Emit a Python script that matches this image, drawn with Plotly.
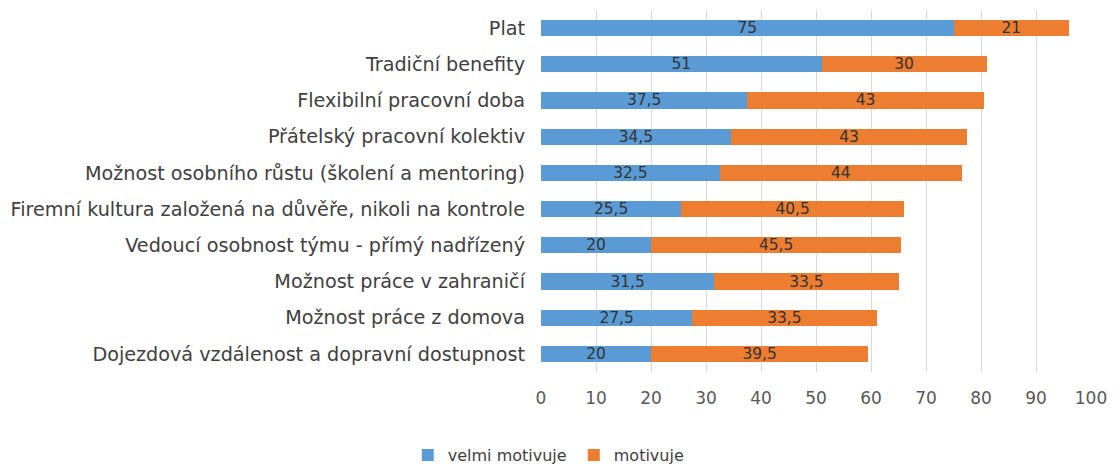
import plotly.graph_objects as go

categories = [
    "Plat",
    "Tradiční benefity",
    "Flexibilní pracovní doba",
    "Přátelský pracovní kolektiv",
    "Možnost osobního růstu (školení a mentoring)",
    "Firemní kultura založená na důvěře, nikoli na kontrole",
    "Vedoucí osobnost týmu - přímý nadřízený",
    "Možnost práce v zahraničí",
    "Možnost práce z domova",
    "Dojezdová vzdálenost a dopravní dostupnost",
]
velmi_motivuje = [75, 51, 37.5, 34.5, 32.5, 25.5, 20, 31.5, 27.5, 20]
motivuje = [21, 30, 43, 43, 44, 40.5, 45.5, 33.5, 33.5, 39.5]
x_ticks = [0, 10, 20, 30, 40, 50, 60, 70, 80, 90, 100]

FONT = "DejaVu Sans"
TXT = "#404040"

fig = go.Figure()
for vals, name, col in [(velmi_motivuje, "velmi motivuje", "#5B9BD5"),
                        (motivuje, "motivuje", "#ED7D31")]:
    fig.add_trace(go.Bar(
        y=categories, x=vals, orientation="h", name=name,
        marker=dict(color=col, line=dict(width=0)),
        texttemplate="%{x}", textposition="inside", insidetextanchor="middle",
        textangle=0, constraintext="none", cliponaxis=False,
        textfont=dict(family=FONT, size=15.5, color="#333333"),
    ))

# page body has an 8px margin, so the figure is offset by 8px
fig.update_layout(
    barmode="stack",
    bargap=0.55,
    width=1112, height=461,
    margin=dict(l=533, r=29, t=2, b=97, autoexpand=False),
    paper_bgcolor="white", plot_bgcolor="white",
    separators=", ",
    font=dict(family=FONT, size=16, color=TXT),
    legend=dict(
        orientation="h", xref="container", yref="container",
        x=0.3595, xanchor="left", y=0.03, yanchor="middle",
        font=dict(family=FONT, size=16, color=TXT),
        traceorder="normal", entrywidth=121, entrywidthmode="pixels",
    ),
    xaxis=dict(
        range=[0, 100], tickvals=x_ticks, showgrid=True, gridcolor="#D9D9D9",
        gridwidth=1, zeroline=False, showline=False, ticks="",
        tickfont=dict(family=FONT, size=17, color="#595959"),
        ticklabelstandoff=14, automargin=False,
    ),
    yaxis=dict(
        autorange="reversed", showgrid=False, zeroline=False, showline=False,
        ticks="", tickfont=dict(family=FONT, size=19.2, color=TXT),
        ticklabelstandoff=15, automargin=False,
    ),
)

fig.write_html("out.html")
